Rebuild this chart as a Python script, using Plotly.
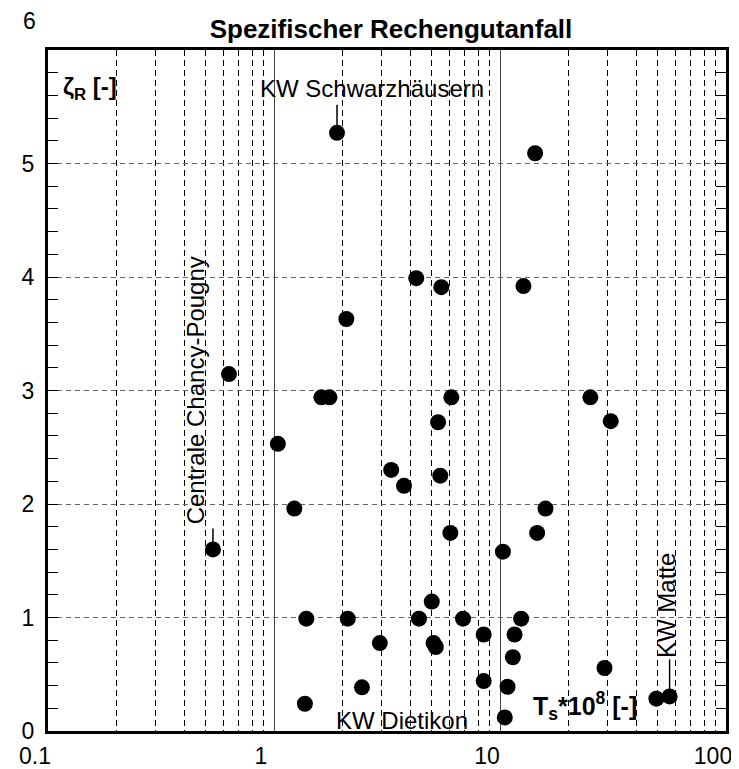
import math
import plotly.graph_objects as go

FONT = "Liberation Sans, Arial, sans-serif"

# data (T_s*10^8 [-], zeta_R [-])
ts = [1.90, 14.3, 4.26, 5.50, 12.7, 2.09, 0.632, 1.62, 1.76, 6.09,
      25.1, 5.32, 30.9, 1.04, 3.30, 3.76, 5.44, 1.23, 15.9, 6.03,
      14.6, 0.537, 10.3, 4.99, 1.39, 2.12, 4.38, 6.86, 12.4, 2.94,
      5.08, 5.20, 8.47, 11.6, 11.4, 29.0, 2.45, 1.37, 8.47, 10.8,
      10.5, 49.2, 56.3]
zeta = [5.27, 5.09, 3.99, 3.91, 3.92, 3.63, 3.145, 2.94, 2.94, 2.94,
        2.94, 2.72, 2.73, 2.53, 2.30, 2.16, 2.25, 1.96, 1.96, 1.745,
        1.745, 1.60, 1.58, 1.14, 0.99, 0.99, 0.99, 0.99, 0.99, 0.775,
        0.775, 0.74, 0.85, 0.85, 0.65, 0.555, 0.385, 0.24, 0.44, 0.39,
        0.12, 0.285, 0.305]

label_names = ["KW Schwarzhäusern", "Centrale Chancy-Pougny", "KW Dietikon", "KW Matte"]
label_idx = [0, 21, 40, 42]

x_ticks = [0.1, 1, 10, 100]
x_ticktext = ["0.1", "1", "10", "100"]
x_minor = [m * d for d in (0.1, 1, 10) for m in range(2, 10)]
y_ticks = [0, 1, 2, 3, 4, 5]
y_minor = [round(0.2 * k, 1) for k in range(1, 30) if k % 5 != 0]

fig = go.Figure()
fig.add_trace(go.Scatter(x=ts, y=zeta, mode="markers",
                         marker=dict(size=16, color="black"),
                         cliponaxis=False, hoverinfo="skip"))

# label placement styles (pixel offsets from the point)
label_style = {
    "KW Schwarzhäusern": dict(xshift=35, yshift=44, angle=0, leader=(0, 0, 0, 28)),
    "Centrale Chancy-Pougny": dict(xshift=-18, yshift=159, angle=-90, leader=(-4, 6, -12, 21)),
    "KW Dietikon": dict(xshift=-103, yshift=-3, angle=0, leader=(0, 0, -25, 0)),
    "KW Matte": dict(xshift=-3, yshift=91, angle=-90, leader=(-2, 0, -2, 37)),
}

for name, i in zip(label_names, label_idx):
    st = label_style[name]
    lx = math.log10(ts[i])
    fig.add_annotation(x=lx, y=zeta[i], xref="x", yref="y", text=name,
                       showarrow=False, textangle=st["angle"],
                       xshift=st["xshift"], yshift=st["yshift"],
                       font=dict(size=24, color="black", family=FONT))
    x0, y0, x1, y1 = st["leader"]
    fig.add_shape(type="line", xref="x", yref="y", xsizemode="pixel", ysizemode="pixel",
                  xanchor=ts[i], yanchor=zeta[i], x0=x0, y0=y0, x1=x1, y1=y1,
                  line=dict(color="black", width=1.5), layer="above")

# axis titles inside the plot
fig.add_annotation(x=(53 - 40) / 678, y=(723 - 80) / 681, xref="paper", yref="paper",
                   xanchor="left", yanchor="middle", showarrow=False,
                   text="<b>ζ<sub>R</sub> [-]</b>", font=dict(size=24, family=FONT))
fig.add_annotation(x=(523 - 40) / 678, y=(723 - 698) / 681, xref="paper", yref="paper",
                   xanchor="left", yanchor="middle", showarrow=False,
                   text="<b>T<sub>s</sub>*10<sup>8</sup> [-]</b>", font=dict(size=25, family=FONT))
# top y label
fig.add_annotation(x=(30 - 40) / 678, y=(723 - 13) / 681, xref="paper", yref="paper",
                   xanchor="right", yanchor="middle", showarrow=False,
                   text="6", font=dict(size=23, family=FONT))

fig.update_layout(
    width=739, height=769,
    margin=dict(l=40, r=21, t=42, b=46),
    plot_bgcolor="white", paper_bgcolor="white",
    showlegend=False,
    font=dict(family=FONT, size=23, color="black"),
    title=dict(text="<b>Spezifischer Rechengutanfall</b>", x=383 / 739, xanchor="center",
               y=1 - 21 / 769, yanchor="middle", font=dict(size=26, family=FONT)),
    xaxis=dict(type="log", range=[-1, 2], tickvals=x_ticks, ticktext=x_ticktext,
               ticks="", ticklen=0, showline=True, linewidth=3, linecolor="black", mirror=True,
               showgrid=True, gridcolor="#444444", gridwidth=1, zeroline=False,
               ticklabelstandoff=2, ticklabelshift=-13, ticklabeloverflow="allow",
               automargin=False,
               minor=dict(tickvals=x_minor, showgrid=True, gridcolor="black",
                          griddash="6px,4px", gridwidth=1, ticks="", ticklen=0)),
    yaxis=dict(range=[0, 6], tickvals=y_ticks, ticks="inside", ticklen=10, tickwidth=1,
               tickcolor="black", showline=True, linewidth=3, linecolor="black",
               mirror="allticks", showgrid=True, gridcolor="#666666",
               griddash="5px,4px", gridwidth=1, zeroline=False, ticklabelstandoff=6,
               automargin=False,
               minor=dict(tickvals=y_minor, ticks="inside", ticklen=10, tickwidth=1,
                          tickcolor="black", showgrid=False)),
)

fig.write_html("out.html")
